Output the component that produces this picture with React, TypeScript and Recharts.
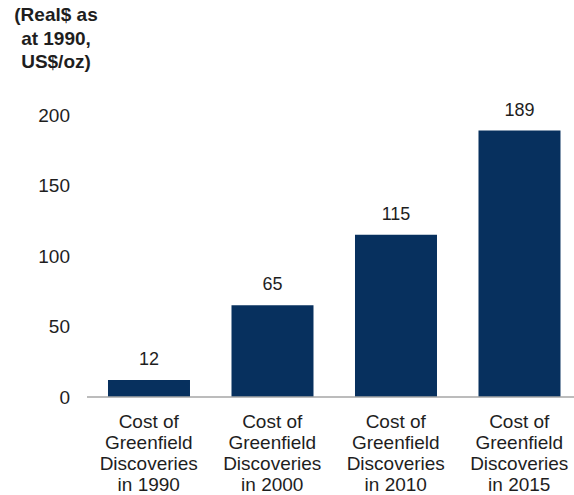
import { BarChart, Bar, XAxis, YAxis, LabelList } from 'recharts';

// Cost of greenfield discoveries, real $ as at 1990 (US$/oz)
const categories = [
  'Cost of\nGreenfield\nDiscoveries\nin 1990',
  'Cost of\nGreenfield\nDiscoveries\nin 2000',
  'Cost of\nGreenfield\nDiscoveries\nin 2010',
  'Cost of\nGreenfield\nDiscoveries\nin 2015',
];
const costs = [12, 65, 115, 189];
const yTicks = [0, 50, 100, 150, 200];
const unitLines = ['(Real$ as', 'at 1990,', 'US$/oz)'];

const data = categories.map((name, i) => ({ name, cost: costs[i] }));

const textColor = '#1e1e1e';
const barColor = '#07305e';
const font = '"Liberation Sans", Arial, sans-serif';

const CategoryTick = (props: any) => {
  const { x, y, payload } = props;
  const lines = String(payload.value).split('\n');
  return (
    <text x={x} y={y} textAnchor="middle" fill={textColor} fontSize={19} fontFamily={font}>
      {lines.map((line, i) => (
        <tspan key={i} x={x} y={y + 31 + i * 21}>
          {line}
        </tspan>
      ))}
    </text>
  );
};

export default function App() {
  return (
    <div
      style={{
        position: 'fixed',
        left: 0,
        top: 0,
        width: 574,
        height: 495,
        overflow: 'hidden',
        background: '#fff',
        fontFamily: font,
      }}
    >
      <div
        style={{
          position: 'absolute',
          left: 6,
          top: 3,
          width: 100,
          textAlign: 'center',
          fontWeight: 'bold',
          fontSize: 19,
          lineHeight: '23.5px',
          color: textColor,
        }}
      >
        {unitLines.map((l) => (
          <div key={l}>{l}</div>
        ))}
      </div>
      <BarChart
        width={581}
        height={495}
        data={data}
        margin={{ top: 115, right: 0, bottom: 0, left: 0 }}
        barCategoryGap="17%"
      >
        <XAxis
          dataKey="name"
          height={98}
          tickLine={false}
          tickSize={0}
          tickMargin={0}
          interval={0}
          axisLine={{ stroke: '#a6a6a6', strokeWidth: 1.5 }}
          tick={<CategoryTick />}
        />
        <YAxis
          width={87}
          domain={[0, 200]}
          ticks={yTicks}
          axisLine={false}
          tickLine={false}
          tickSize={0}
          tickMargin={17}
          tick={{ fill: textColor, fontSize: 19, fontFamily: font }}
        />
        <Bar dataKey="cost" fill={barColor} isAnimationActive={false}>
          <LabelList
            dataKey="cost"
            position="top"
            offset={15}
            fill={textColor}
            fontSize={18}
            fontFamily={font}
          />
        </Bar>
      </BarChart>
    </div>
  );
}
